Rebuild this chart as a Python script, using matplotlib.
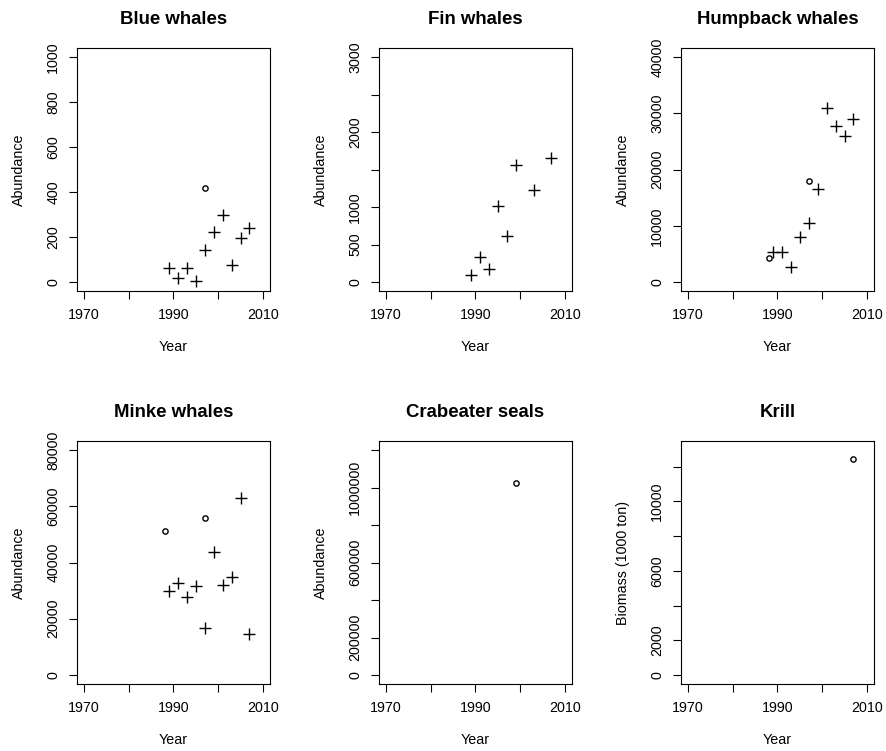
import numpy as np
import matplotlib
matplotlib.use('Agg')
import matplotlib.pyplot as plt

plt.rcParams['font.family'] = ['Liberation Sans', 'DejaVu Sans']

# Datos
titulos = ['Blue whales', 'Fin whales', 'Humpback whales',
           'Minke whales', 'Crabeater seals', 'Krill']
ylabels = ['Abundance', 'Abundance', 'Abundance',
           'Abundance', 'Abundance', 'Biomass (1000 ton)']

blue_cruz_anos = [1989, 1991, 1993, 1995, 1997, 1999, 2001, 2003, 2005, 2007]
blue_cruz_vals = [64, 19, 64, 6, 143, 222, 298, 76, 195, 240]
blue_circ_anos = [1997]
blue_circ_vals = [418]

fin_cruz_anos = [1989, 1991, 1993, 1995, 1997, 1999, 2003, 2007]
fin_cruz_vals = [94, 339, 178, 1018, 620, 1563, 1223, 1652]
fin_circ_anos = []
fin_circ_vals = []

hump_cruz_anos = [1989, 1991, 1993, 1995, 1997, 1999, 2001, 2003, 2005, 2007]
hump_cruz_vals = [5300, 5300, 2740, 7980, 10480, 16610, 31010, 27680, 25950, 29050]
hump_circ_anos = [1988, 1997]
hump_circ_vals = [4230, 17920]

minke_cruz_anos = [1989, 1991, 1993, 1995, 1997, 1999, 2001, 2003, 2005, 2007]
minke_cruz_vals = [29880, 32740, 27860, 31550, 16550, 43810, 32140, 34760, 62980, 14640]
minke_circ_anos = [1988, 1997]
minke_circ_vals = [51190, 55830]

crab_cruz_anos = []
crab_cruz_vals = []
crab_circ_anos = [1999]
crab_circ_vals = [1021700]

krill_cruz_anos = []
krill_cruz_vals = []
krill_circ_anos = [2007]
krill_circ_vals = [12430]

ylims = [(0, 1000), (0, 3000), (0, 40000), (0, 80000), (0, 1200000), (0, 12950)]
yticks = [np.arange(0, 1001, 200), np.arange(0, 3001, 500), np.arange(0, 40001, 10000),
          np.arange(0, 80001, 20000), np.arange(0, 1200001, 200000), np.arange(0, 12001, 2000)]
ytick_labels = [
    ['0', '200', '400', '600', '800', '1000'],
    ['0', '500', '1000', '', '2000', '', '3000'],
    ['0', '10000', '20000', '30000', '40000'],
    ['0', '20000', '40000', '60000', '80000'],
    ['0', '200000', '', '600000', '', '1000000', ''],
    ['0', '2000', '', '6000', '', '10000', ''],
]
xticks = [1970, 1980, 1990, 2000, 2010]
xtick_labels = ['1970', '', '1990', '', '2010']

cruces = [(blue_cruz_anos, blue_cruz_vals), (fin_cruz_anos, fin_cruz_vals),
          (hump_cruz_anos, hump_cruz_vals), (minke_cruz_anos, minke_cruz_vals),
          (crab_cruz_anos, crab_cruz_vals), (krill_cruz_anos, krill_cruz_vals)]
circulos = [(blue_circ_anos, blue_circ_vals), (fin_circ_anos, fin_circ_vals),
            (hump_circ_anos, hump_circ_vals), (minke_circ_anos, minke_circ_vals),
            (crab_circ_anos, crab_circ_vals), (krill_circ_anos, krill_circ_vals)]

W, H = 886, 751
fig = plt.figure(figsize=(W / 100, H / 100), dpi=100)

izq = [77, 379, 681]
arriba = [48, 441]
ancho, alto = 193, 243

def pad4(lo, hi):
    r = hi - lo
    return lo - 0.04 * r, hi + 0.04 * r

for i in range(6):
    fila, col = divmod(i, 3)
    ax = fig.add_axes([izq[col] / W, (H - arriba[fila] - alto) / H, ancho / W, alto / H])

    xa, ya = cruces[i]
    if xa:
        ax.plot(xa, ya, linestyle='none', marker='+', color='black',
                markersize=8.5, markeredgewidth=1.0)
    xc, yc = circulos[i]
    if xc:
        ax.plot(xc, yc, linestyle='none', marker='o', markerfacecolor='none',
                markeredgecolor='black', markersize=3.8, markeredgewidth=1.0)

    ax.set_xlim(*pad4(1970, 2010))
    ax.set_ylim(*pad4(*ylims[i]))
    ax.set_xticks(xticks)
    ax.set_xticklabels(xtick_labels)
    ax.set_yticks(yticks[i])
    ax.set_yticklabels(ytick_labels[i], rotation=90, va='center')
    ax.tick_params(axis='both', direction='out', length=5.8, width=0.8,
                   labelsize=10.3, colors='black')
    ax.tick_params(axis='x', pad=6.7)
    ax.tick_params(axis='y', pad=6.3)
    for s in ax.spines.values():
        s.set_linewidth(0.8)

    ax.set_title(titulos[i], fontsize=13.4, fontweight='bold', pad=17.3)
    ax.set_xlabel('Year', fontsize=10.3)
    ax.set_ylabel(ylabels[i], fontsize=10.3)
    ax.xaxis.set_label_coords(0.5, -49 / alto)
    ax.yaxis.set_label_coords(-51.3 / ancho, 0.5)

plt.savefig('out.png', dpi=100)
